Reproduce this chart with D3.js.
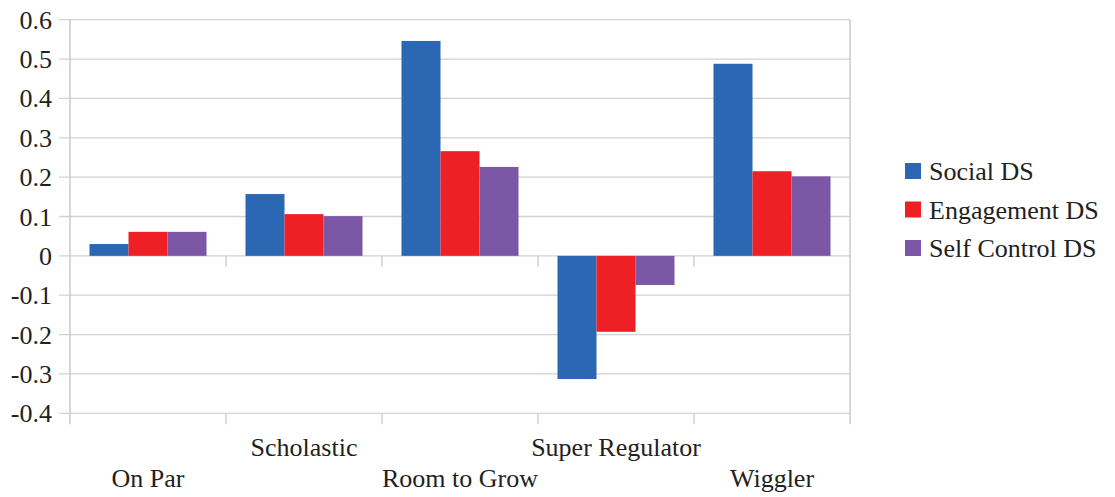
<!DOCTYPE html>
<html><head><meta charset="utf-8">
<script src="https://cdn.jsdelivr.net/npm/d3@7"></script>
</head><body><svg id="c" width="1115" height="497"></svg>
<script>
const categories = ["On Par","Scholastic","Room to Grow","Super Regulator","Wiggler"];
const seriesNames = ["Social DS","Engagement DS","Self Control DS"];
const socialDS = [0.030, 0.157, 0.546, -0.313, 0.488];
const engagementDS = [0.061, 0.106, 0.266, -0.193, 0.215];
const selfControlDS = [0.061, 0.101, 0.226, -0.074, 0.202];
const yTicks = [-0.4,-0.3,-0.2,-0.1,0,0.1,0.2,0.3,0.4,0.5,0.6];
const colors = ["#2b67b2","#ee2026","#7b57a5"];
const series = [socialDS, engagementDS, selfControlDS];

d3.select("body").style("margin","0");
d3.select("#c").style("display","block");
const TXT = "#231f20";
const svg = d3.select("#c");
const L = 70, R = 850, T = 19.7, B = 413.3;
const y = d3.scaleLinear().domain([-0.4,0.6]).range([B,T]);
const x0 = d3.scaleBand().domain(categories).range([L,R]).paddingInner(0).paddingOuter(0);
const x1 = d3.scaleBand().domain(seriesNames).range([19.5, x0.bandwidth()-19.5]).padding(0);
const grid = "#d2d2d2";

svg.append("g").selectAll("line").data(yTicks).join("line")
  .attr("x1", L-11).attr("x2", R).attr("y1", d=>y(d)).attr("y2", d=>y(d))
  .attr("stroke", grid).attr("stroke-width", 1.3);

[L,R].forEach(xx=>svg.append("line").attr("x1",xx).attr("x2",xx).attr("y1",T).attr("y2",B+11).attr("stroke","#c8c8c8").attr("stroke-width",1.5));
const bounds = categories.slice(1).map(c=>x0(c));
[y(0), B].forEach(yy=>{
  svg.append("g").selectAll("line").data(bounds).join("line")
    .attr("x1",d=>d).attr("x2",d=>d).attr("y1",yy).attr("y2",yy+11)
    .attr("stroke","#c8c8c8").attr("stroke-width",1.3);
});

const g = svg.append("g");
series.forEach((vals,si)=>{
  g.append("g").selectAll("rect").data(vals).join("rect")
    .attr("x",(d,i)=>x0(categories[i])+x1(seriesNames[si]))
    .attr("width",x1.bandwidth())
    .attr("y",d=>y(Math.max(0,d)))
    .attr("height",d=>Math.abs(y(d)-y(0)))
    .attr("fill",colors[si]);
});

const yLab = yTicks.map(d=> d===0 ? "0" : (d<0?"-":"")+d3.format(".1f")(Math.abs(d)));
svg.selectAll("text.yl").data(yTicks).join("text").attr("class","yl")
  .attr("x", 52).attr("y", d=>y(d)+9).attr("text-anchor","end")
  .style("font-family",'"Liberation Serif"').style("font-size","26px").style("fill",TXT)
  .text((d,i)=>yLab[i]);

svg.selectAll("text.xl").data(categories).join("text").attr("class","xl")
  .attr("x",d=>x0(d)+x0.bandwidth()/2)
  .attr("y",(d,i)=> i%2===0 ? 487 : 456)
  .attr("text-anchor","middle")
  .style("font-family",'"Liberation Serif"').style("font-size","26px").style("fill",TXT)
  .text(d=>d);

svg.selectAll("rect.lg").data(seriesNames).join("rect").attr("class","lg")
  .attr("x",905).attr("y",(d,i)=>163 + i*38.5).attr("width",16).attr("height",16).attr("fill",(d,i)=>colors[i]);
svg.selectAll("text.lg").data(seriesNames).join("text").attr("class","lg")
  .attr("x",929).attr("y",(d,i)=>180 + i*38.5)
  .style("font-family",'"Liberation Serif"').style("font-size","26px").style("fill",TXT)
  .text(d=>d);
</script></body></html>
